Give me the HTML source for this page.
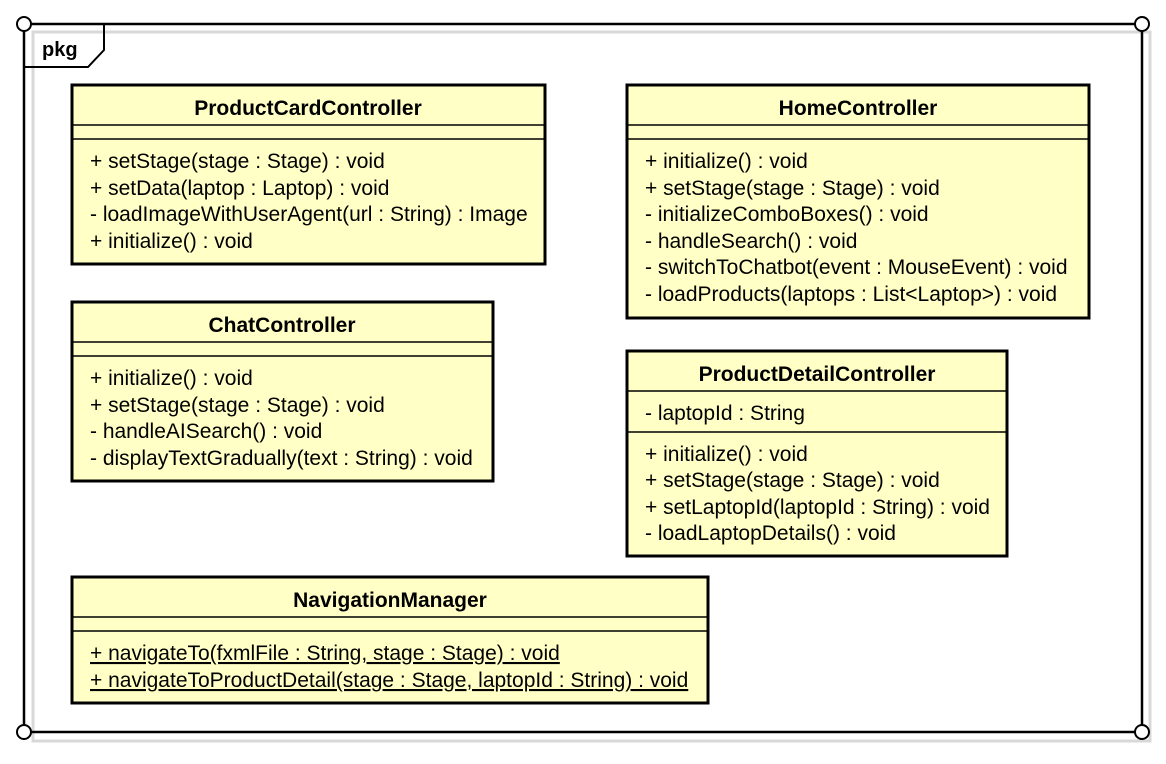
<!DOCTYPE html>
<html><head><meta charset="utf-8"><style>
html,body{margin:0;padding:0;background:#fff;}
svg text{font-family:"Liberation Sans",Arial,sans-serif;font-size:21px;fill:#000;}
.t{font-weight:bold;text-anchor:middle;}
</style></head><body>
<svg width="1166" height="759" viewBox="0 0 1166 759" xmlns="http://www.w3.org/2000/svg">
<rect x="33" y="32" width="1117" height="709" fill="none" stroke="#d8d8d8" stroke-width="3"/>
<rect x="24" y="24" width="1118" height="708" fill="none" stroke="#000" stroke-width="2.5"/>
<polyline points="24,67 88,67 104,50 104,24" fill="none" stroke="#000" stroke-width="2"/>
<text x="42" y="56" style="font-weight:bold;font-size:20px">pkg</text>
<g fill="#fff" stroke="#000" stroke-width="2">
<circle cx="24" cy="24" r="7"/><circle cx="1142" cy="24" r="7"/>
<circle cx="24" cy="732" r="7"/><circle cx="1142" cy="732" r="7"/>
</g>

<g stroke="#000" fill="#ffffc6">
<rect x="72" y="85" width="473" height="179" stroke-width="3"/>
<line x1="72" y1="125" x2="545" y2="125" stroke-width="1.5"/>
<line x1="72" y1="139" x2="545" y2="139" stroke-width="1.5"/>
<rect x="627" y="85" width="462" height="233" stroke-width="3"/>
<line x1="627" y1="125" x2="1089" y2="125" stroke-width="1.5"/>
<line x1="627" y1="139" x2="1089" y2="139" stroke-width="1.5"/>
<rect x="72" y="302" width="421" height="179" stroke-width="3"/>
<line x1="72" y1="342" x2="493" y2="342" stroke-width="1.5"/>
<line x1="72" y1="356" x2="493" y2="356" stroke-width="1.5"/>
<rect x="627" y="351" width="380" height="205" stroke-width="3"/>
<line x1="627" y1="391" x2="1007" y2="391" stroke-width="1.5"/>
<line x1="627" y1="432" x2="1007" y2="432" stroke-width="1.5"/>
<rect x="72" y="577" width="636" height="126" stroke-width="3"/>
<line x1="72" y1="617" x2="708" y2="617" stroke-width="1.5"/>
<line x1="72" y1="631" x2="708" y2="631" stroke-width="1.5"/>
</g>

<text class="t" x="308" y="115">ProductCardController</text>
<text x="90" y="168">+ setStage(stage : Stage) : void</text>
<text x="90" y="195">+ setData(laptop : Laptop) : void</text>
<text x="90" y="221">- loadImageWithUserAgent(url : String) : Image</text>
<text x="90" y="248">+ initialize() : void</text>

<text class="t" x="858" y="115">HomeController</text>
<text x="645" y="168">+ initialize() : void</text>
<text x="645" y="195">+ setStage(stage : Stage) : void</text>
<text x="645" y="221">- initializeComboBoxes() : void</text>
<text x="645" y="248">- handleSearch() : void</text>
<text x="645" y="274">- switchToChatbot(event : MouseEvent) : void</text>
<text x="645" y="301">- loadProducts(laptops : List&lt;Laptop&gt;) : void</text>

<text class="t" x="282" y="332">ChatController</text>
<text x="90" y="385">+ initialize() : void</text>
<text x="90" y="412">+ setStage(stage : Stage) : void</text>
<text x="90" y="438">- handleAISearch() : void</text>
<text x="90" y="465">- displayTextGradually(text : String) : void</text>

<text class="t" x="817" y="381">ProductDetailController</text>
<text x="645" y="420">- laptopId : String</text>
<text x="645" y="461">+ initialize() : void</text>
<text x="645" y="487">+ setStage(stage : Stage) : void</text>
<text x="645" y="514">+ setLaptopId(laptopId : String) : void</text>
<text x="645" y="540">- loadLaptopDetails() : void</text>

<text class="t" x="390" y="607">NavigationManager</text>
<text x="90" y="660" text-decoration="underline">+ navigateTo(fxmlFile : String, stage : Stage) : void</text>
<text x="90" y="687" text-decoration="underline">+ navigateToProductDetail(stage : Stage, laptopId : String) : void</text>
</svg>
</body></html>
